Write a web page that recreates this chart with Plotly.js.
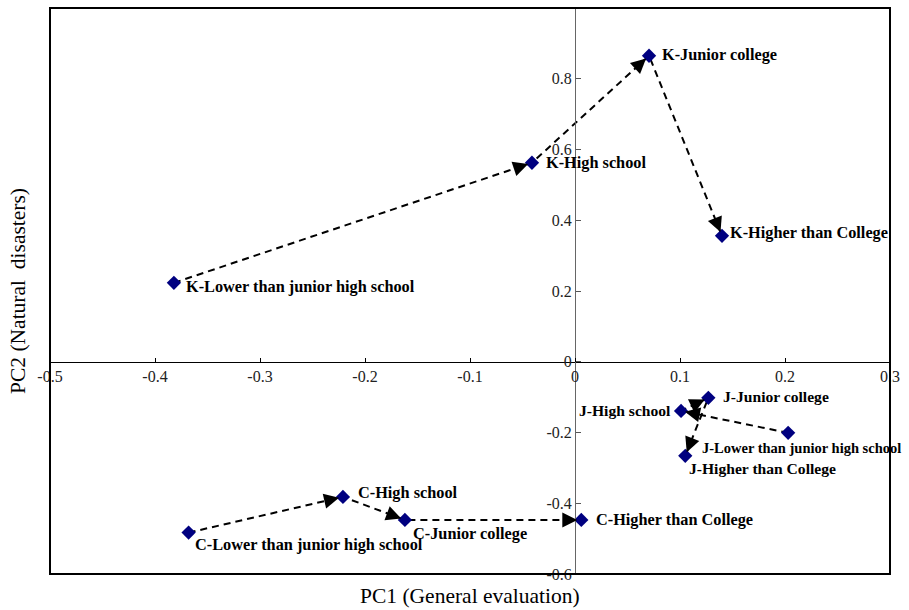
<!DOCTYPE html>
<html>
<head>
<meta charset="utf-8">
<script src="https://cdn.plot.ly/plotly-3.0.1.min.js"></script>
<style>html,body{margin:0;padding:0;background:#fff;}#chart{width:909px;height:610px;}</style>
</head>
<body>
<div id="chart"></div>
<script>
// ---- data ----
const levels = ["Lower than junior high school", "High school", "Junior college", "Higher than College"];
const groups = ["K", "J", "C"];
const kX = [-0.382, -0.041, 0.0705, 0.140];
const kY = [0.223, 0.5625, 0.865, 0.356];
const jX = [0.203, 0.101, 0.127, 0.105];
const jY = [-0.201, -0.139, -0.102, -0.266];
const cX = [-0.368, -0.221, -0.162, 0.006];
const cY = [-0.483, -0.382, -0.447, -0.447];
const xTicks = [-0.5, -0.4, -0.3, -0.2, -0.1, 0, 0.1, 0.2, 0.3];
const yTicks = [-0.6, -0.4, -0.2, 0, 0.2, 0.4, 0.6, 0.8, 1];
const xTitle = "PC1 (General evaluation)";
const yTitle = "PC2 (Natural  disasters)";

// ---- label placement (style) ----
const labelStyle = {
  K: [{xa:"left",dx:10,dy:-4,fs:16.3},{xa:"left",dx:12,dy:0,fs:16.3},{xa:"left",dx:11,dy:1,fs:16.3},{xa:"left",dx:6,dy:3,fs:16.3}],
  J: [{xa:"left",dx:-88,dy:-15,fs:14.5},{xa:"right",dx:-8,dy:0,fs:15.6},{xa:"left",dx:13,dy:1,fs:15.6},{xa:"left",dx:2,dy:-13,fs:15.6}],
  C: [{xa:"left",dx:4,dy:-12,fs:16.3},{xa:"left",dx:13,dy:4,fs:16.3},{xa:"left",dx:6,dy:-14,fs:16.3},{xa:"left",dx:13,dy:0,fs:16.3}]
};

const series = {K:[kX,kY], J:[jX,jY], C:[cX,cY]};
const serif = "Liberation Serif";

const traces = [];
const annotations = [];
const arrowSpecs = [];
groups.forEach(g => {
  const [xs, ys] = series[g];
  traces.push({
    x: xs, y: ys, type: "scatter", mode: "lines",
    line: {color: "#000", width: 2, dash: "7px,5px"},
    hoverinfo: "skip", showlegend: false, cliponaxis: false
  });
  traces.push({
    x: xs, y: ys, type: "scatter", mode: "markers",
    marker: {symbol: "diamond", size: 11, color: "#000080"},
    text: levels.map(l => g + "-" + l), hoverinfo: "text",
    showlegend: false, cliponaxis: false
  });
  for (let i = 1; i < xs.length; i++) {
    arrowSpecs.push({x0: xs[i-1], y0: ys[i-1], x1: xs[i], y1: ys[i]});
  }
  xs.forEach((x, i) => {
    const s = labelStyle[g][i];
    annotations.push({
      x: x, y: ys[i], xref: "x", yref: "y", showarrow: false,
      text: "<b>" + g + "-" + levels[i] + "</b>",
      xanchor: s.xa, yanchor: "middle", xshift: s.dx, yshift: s.dy,
      font: {family: serif, size: s.fs, color: "#000"}
    });
  });
});

annotations.push({
  xref: "paper", yref: "paper", x: 0.5, y: 0, yshift: -22, yanchor: "middle",
  showarrow: false, text: xTitle, font: {family: serif, size: 21.5, color: "#000"}
});
annotations.push({
  xref: "paper", yref: "paper", x: 0, xshift: -32, y: 0.5, xanchor: "center",
  textangle: -90, showarrow: false, text: yTitle,
  font: {family: serif, size: 21.5, color: "#000"}
});

const layout = {
  width: 909, height: 610,
  margin: {l: 50, r: 19, t: 8, b: 36},
  paper_bgcolor: "#fff", plot_bgcolor: "#fff",
  showlegend: false,
  font: {family: serif},
  xaxis: {
    range: [-0.5, 0.3], anchor: "free", position: 0.375, side: "bottom",
    tickvals: xTicks, ticktext: xTicks.map(v => String(v)),
    ticks: "inside", ticklen: 4, tickcolor: "#000", tickwidth: 1,
    showline: true, linecolor: "#000", linewidth: 1.5,
    showgrid: false, zeroline: false, automargin: false,
    tickfont: {family: serif, size: 16, color: "#222"}
  },
  yaxis: {
    range: [-0.6, 1], anchor: "free", position: 0.625, side: "left",
    tickvals: yTicks, ticktext: yTicks.map(v => String(v)),
    ticks: "inside", ticklen: 5, tickcolor: "#555", tickwidth: 1,
    showline: true, linecolor: "#666", linewidth: 1,
    showgrid: false, zeroline: false, automargin: false,
    tickfont: {family: serif, size: 16, color: "#222"}
  },
  shapes: [{
    type: "rect", xref: "paper", yref: "paper", x0: 0, x1: 1, y0: 0, y1: 1,
    line: {color: "#000", width: 2}
  }],
  annotations: annotations
};

const gd = document.getElementById("chart");
Plotly.newPlot(gd, traces, layout, {displayModeBar: false, staticPlot: true}).then(() => {
  const xa = gd._fullLayout.xaxis, ya = gd._fullLayout.yaxis;
  const arrows = arrowSpecs.map(a => {
    const px = xa.l2p(a.x1) - xa.l2p(a.x0);
    const py = ya.l2p(a.y1) - ya.l2p(a.y0);
    const len = Math.sqrt(px * px + py * py);
    const L = Math.min(16, len * 0.6);
    return {
      x: a.x1, y: a.y1, xref: "x", yref: "y",
      ax: -px / len * L, ay: -py / len * L, axref: "pixel", ayref: "pixel",
      text: "", showarrow: true, arrowhead: 2, arrowsize: 1.5, arrowwidth: 2,
      arrowcolor: "#000", standoff: 4
    };
  });
  return Plotly.relayout(gd, {annotations: annotations.concat(arrows)});
});
</script>
</body>
</html>
